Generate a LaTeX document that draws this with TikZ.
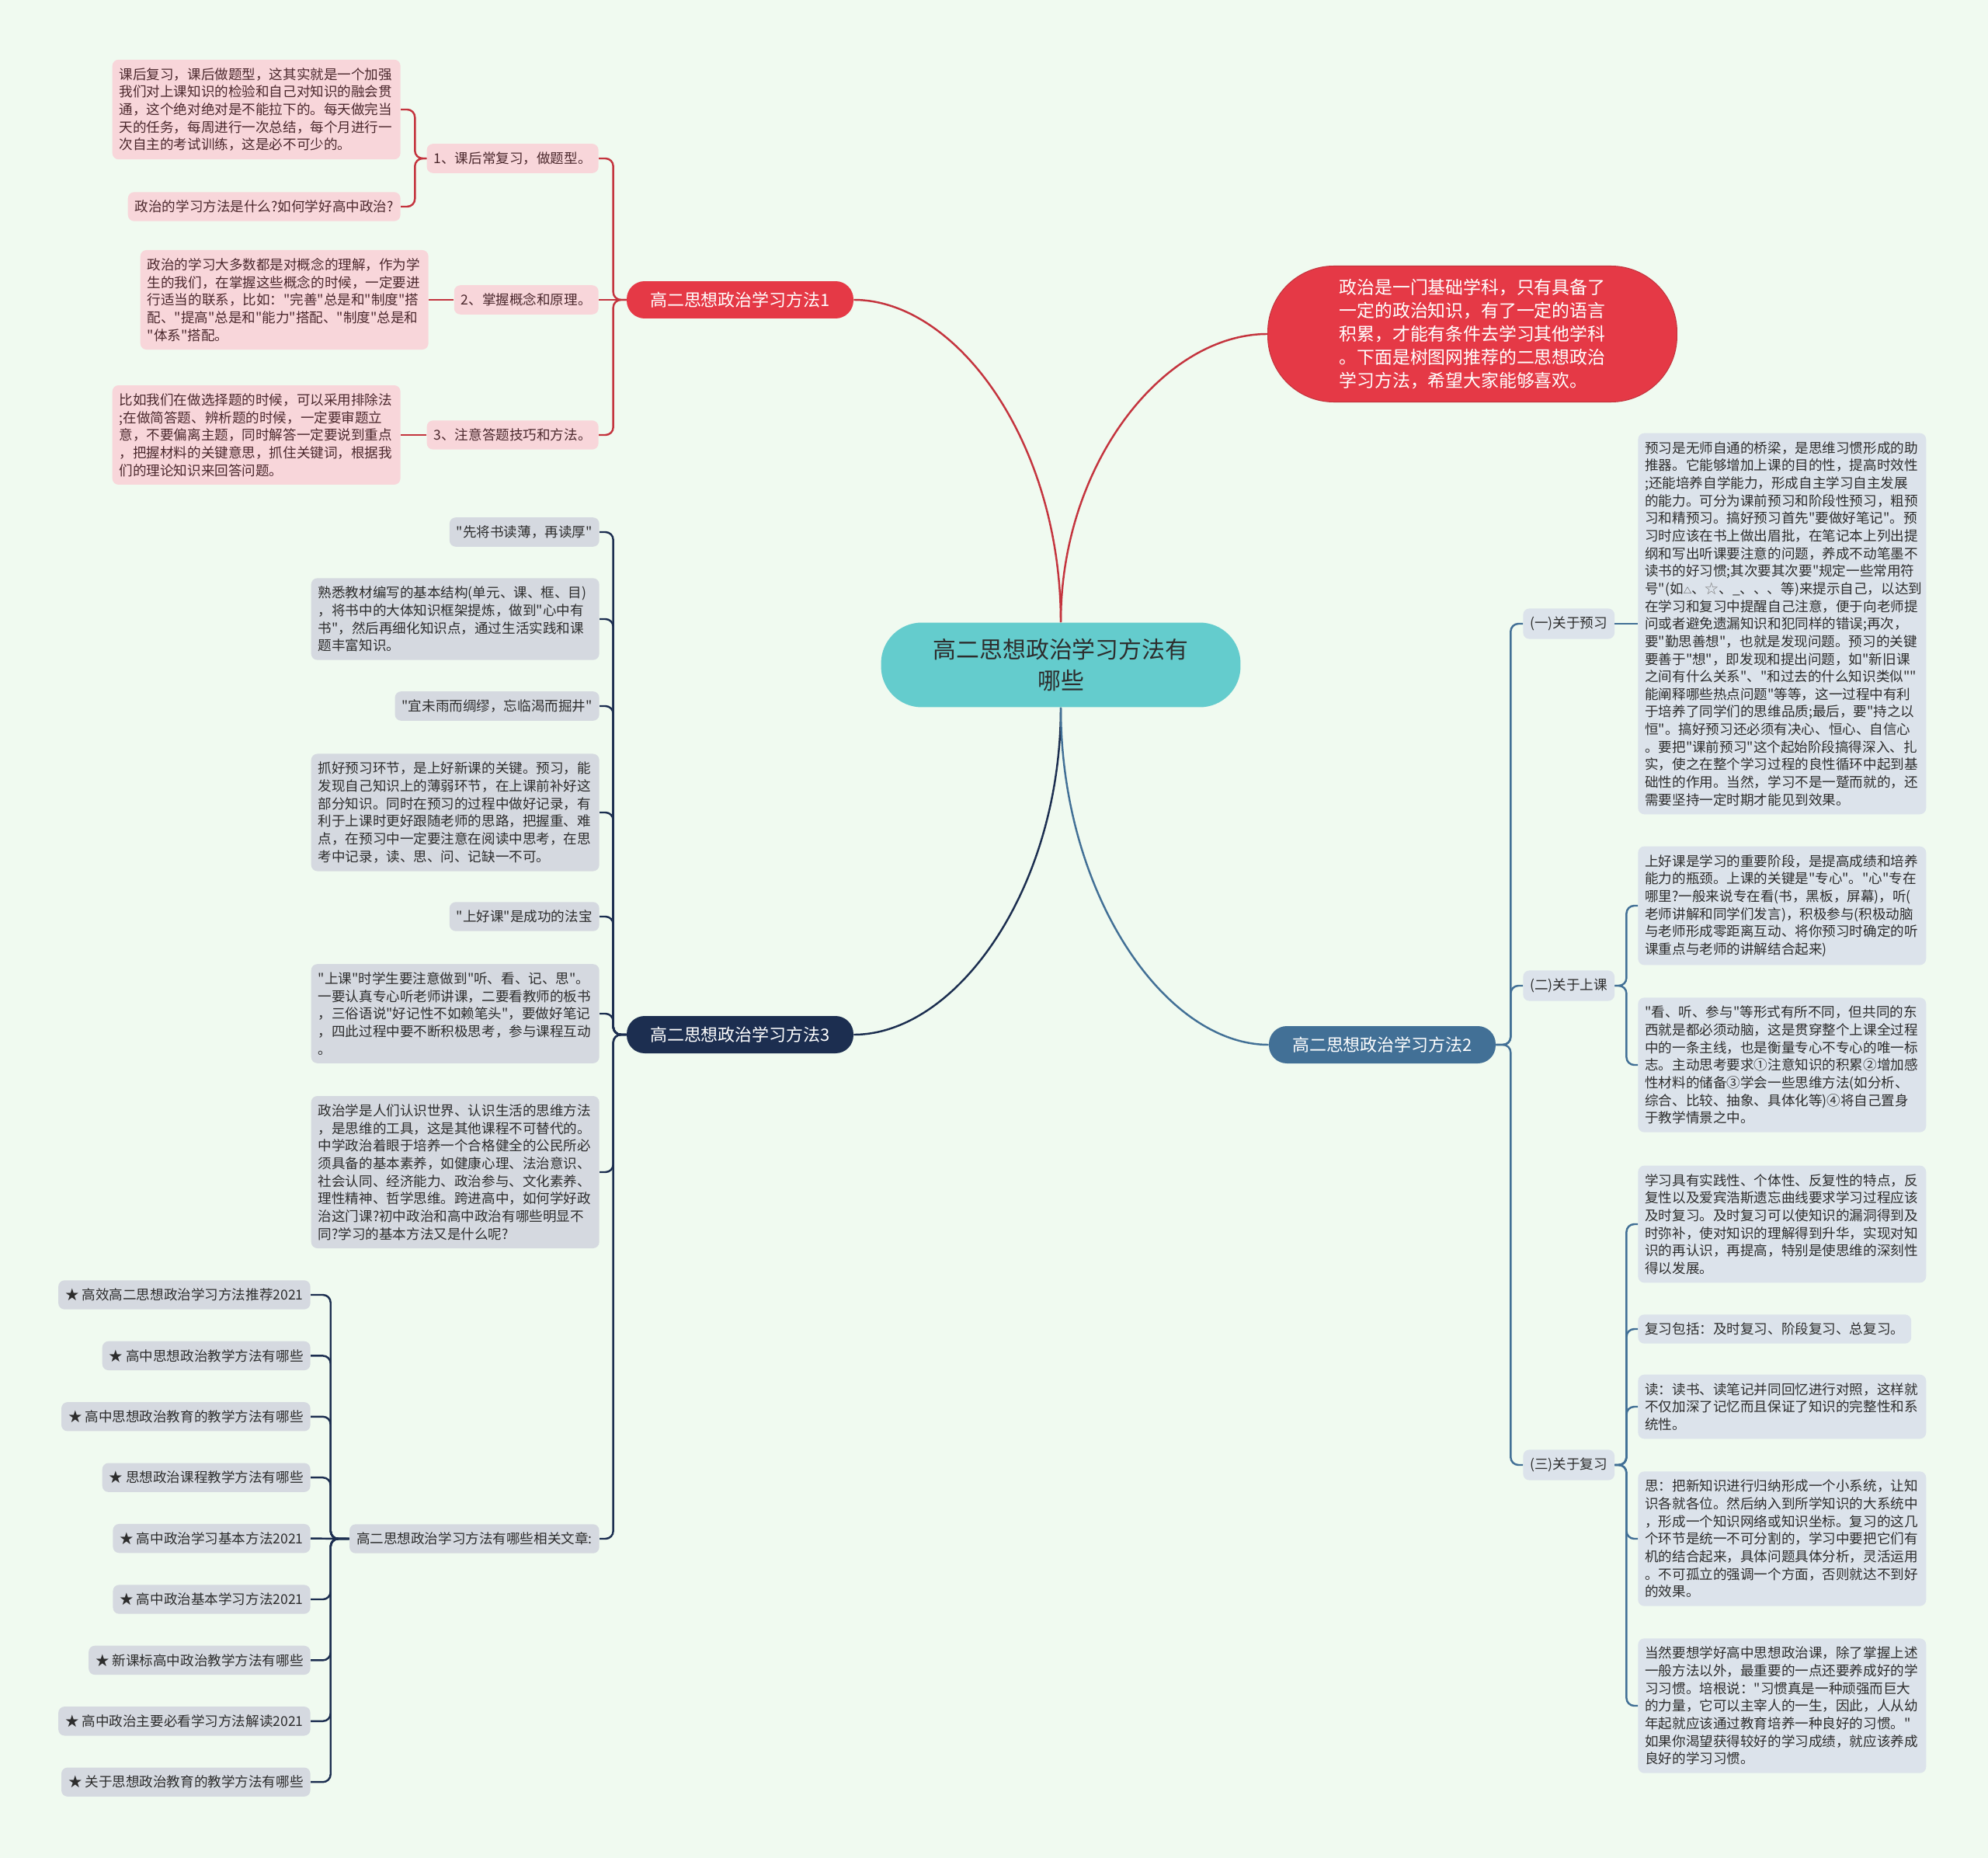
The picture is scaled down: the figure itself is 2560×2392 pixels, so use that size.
\documentclass[tikz,border=0pt]{standalone}
\usepackage{fontspec}
\newfontfamily\cjk{Noto Sans CJK SC}

\definecolor{bgmint}{RGB}{240,250,240}
\definecolor{pinkfill}{RGB}{248,214,218}
\definecolor{pinktext}{RGB}{75,40,45}
\definecolor{redline}{RGB}{196,52,62}
\definecolor{redfill}{RGB}{229,57,70}
\definecolor{navy}{RGB}{28,46,80}
\definecolor{grayfill}{RGB}{213,217,224}
\definecolor{steel}{RGB}{66,112,150}
\definecolor{bluefill}{RGB}{220,227,235}
\definecolor{cyanfill}{RGB}{100,204,205}
\definecolor{inkdark}{RGB}{45,45,45}

\def\notewidth{7.06cm}

\tikzset{
  note/.style={rounded corners=0.16cm, align=left, inner xsep=0.18cm, inner ysep=0.21cm,
    font=\cjk\fontsize{10}{12.9}\selectfont, text=inkdark},
  pinknote/.style={note, fill=pinkfill, text=pinktext},
  graynote/.style={note, fill=grayfill},
  bluenote/.style={note, fill=bluefill},
  wide/.style={text width=\notewidth},
  topic/.style={rounded corners=0.46cm, minimum width=5.84cm, minimum height=0.96cm,
    inner sep=0pt, text=white, font=\cjk\fontsize{12.5}{15}\selectfont},
  link/.style={line width=1.4pt, rounded corners=0.2cm},
}

\begin{document}
\begin{tikzpicture}[x=0.02cm, y=-0.02cm]
% Background
\fill[bgmint] (0,0) rectangle (2560,2392);

% Root and intro
\node[fill=cyanfill, rounded corners=1.05cm, minimum width=9.26cm, minimum height=2.18cm,
  align=center, text=inkdark, font=\cjk\fontsize{17}{23}\selectfont] (root) at (1366,856)
  {高二思想政治学习方法有\\哪些};
\node[fill=redfill, draw=redline, line width=0.6pt, rounded corners=1.7cm,
  minimum width=10.54cm, minimum height=3.5cm, align=left, text=white,
  font=\cjk\fontsize{13}{17}\selectfont] (intro) at (1896,430)
  {政治是一门基础学科，只有具备了\\
一定的政治知识，有了一定的语言\\
积累，才能有条件去学习其他学科\\
。下面是树图网推荐的二思想政治\\
学习方法，希望大家能够喜欢。};

% Branch 1
\node[topic, fill=redfill] (mA) at (953,386) {高二思想政治学习方法1};
\node[pinknote, anchor=east] (la) at (771,204) {1、课后常复习，做题型。};
\node[pinknote, anchor=east] (lb) at (771,386) {2、掌握概念和原理。};
\node[pinknote, anchor=east] (lc) at (771,560) {3、注意答题技巧和方法。};
\node[pinknote, wide, anchor=east] (la1) at (516,141) {课后复习，课后做题型，这其实就是一个加强\\
我们对上课知识的检验和自己对知识的融会贯\\
通，这个绝对绝对是不能拉下的。每天做完当\\
天的任务，每周进行一次总结，每个月进行一\\
次自主的考试训练，这是必不可少的。};
\node[pinknote, anchor=east] (la2) at (516,266) {政治的学习方法是什么?如何学好高中政治?};
\node[pinknote, wide, anchor=east] (lb1) at (552,386) {政治的学习大多数都是对概念的理解，作为学\\
生的我们，在掌握这些概念的时候，一定要进\\
行适当的联系，比如："完善"总是和"制度"搭\\
配、"提高"总是和"能力"搭配、"制度"总是和\\
"体系"搭配。};
\node[pinknote, wide, anchor=east] (lc1) at (516,560) {比如我们在做选择题的时候，可以采用排除法\\
;在做简答题、辨析题的时候，一定要审题立\\
意，不要偏离主题，同时解答一定要说到重点\\
，把握材料的关键意思，抓住关键词，根据我\\
们的理论知识来回答问题。};

\foreach \n in {la,lc}
  \draw[link, redline] (mA.west) -- ++(-17,0) |- (\n.east);
\draw[link, redline] (mA.west) -- (lb.east);
\foreach \n in {la1,la2}
  \draw[link, redline] (la.west) -- ++(-15,0) |- (\n.east);
\draw[link, redline] (lb.west) -- (lb1.east);
\draw[link, redline] (lc.west) -- (lc1.east);

% Branch 3
\node[topic, fill=navy] (mC) at (953,1332) {高二思想政治学习方法3};
\node[graynote, anchor=east] (c1) at (772,685) {"先将书读薄，再读厚"};
\node[graynote, wide, anchor=east] (c2) at (772,797) {熟悉教材编写的基本结构(单元、课、框、目)\\
，将书中的大体知识框架提炼，做到"心中有\\
书"，然后再细化知识点，通过生活实践和课\\
题丰富知识。};
\node[graynote, anchor=east] (c3) at (772,909) {"宜未雨而绸缪，忘临渴而掘井"};
\node[graynote, wide, anchor=east] (c4) at (772,1046) {抓好预习环节，是上好新课的关键。预习，能\\
发现自己知识上的薄弱环节，在上课前补好这\\
部分知识。同时在预习的过程中做好记录，有\\
利于上课时更好跟随老师的思路，把握重、难\\
点，在预习中一定要注意在阅读中思考，在思\\
考中记录，读、思、问、记缺一不可。};
\node[graynote, anchor=east] (c5) at (772,1180) {"上好课"是成功的法宝};
\node[graynote, wide, anchor=east] (c6) at (772,1305) {"上课"时学生要注意做到"听、看、记、思"。\\
一要认真专心听老师讲课，二要看教师的板书\\
，三俗语说"好记性不如赖笔头"，要做好笔记\\
，四此过程中要不断积极思考，参与课程互动\\
。};
\node[graynote, wide, anchor=east] (c7) at (772,1509) {政治学是人们认识世界、认识生活的思维方法\\
，是思维的工具，这是其他课程不可替代的。\\
中学政治着眼于培养一个合格健全的公民所必\\
须具备的基本素养，如健康心理、法治意识、\\
社会认同、经济能力、政治参与、文化素养、\\
理性精神、哲学思维。跨进高中，如何学好政\\
治这门课?初中政治和高中政治有哪些明显不\\
同?学习的基本方法又是什么呢?};
\node[graynote, anchor=east] (c8) at (772,1981) {高二思想政治学习方法有哪些相关文章:};

\foreach \n in {c1,c2,c3,c4,c5,c6,c7,c8}
  \draw[link, navy] (mC.west) -- ++(-17,0) |- (\n.east);

% Related articles
\foreach \t [count=\i] in {高效高二思想政治学习方法推荐2021, 高中思想政治教学方法有哪些,
    高中思想政治教育的教学方法有哪些, 思想政治课程教学方法有哪些, 高中政治学习基本方法2021,
    高中政治基本学习方法2021, 新课标高中政治教学方法有哪些, 高中政治主要必看学习方法解读2021,
    关于思想政治教育的教学方法有哪些} {
  \node[graynote, anchor=east] (s\i) at (400,{1588.6+78.4*\i}) {★ \t};
}
\foreach \i in {1,...,9} {
  \ifnum\i=5
    \draw[link, navy] (c8.west) -- (s\i.east);
  \else
    \draw[link, navy] (c8.west) -- ++(-24,0) |- (s\i.east);
  \fi
}

% Branch 2
\node[topic, fill=steel] (mB) at (1780,1345) {高二思想政治学习方法2};
\node[bluenote, anchor=west] (q1) at (1961,803) {(一)关于预习};
\node[bluenote, anchor=west] (q2) at (1961,1269) {(二)关于上课};
\node[bluenote, anchor=west] (q3) at (1961,1886) {(三)关于复习};
\node[bluenote, wide, anchor=west] (p1) at (2109,803) {预习是无师自通的桥梁，是思维习惯形成的助\\
推器。它能够增加上课的目的性，提高时效性\\
;还能培养自学能力，形成自主学习自主发展\\
的能力。可分为课前预习和阶段性预习，粗预\\
习和精预习。搞好预习首先"要做好笔记"。预\\
习时应该在书上做出眉批，在笔记本上列出提\\
纲和写出听课要注意的问题，养成不动笔墨不\\
读书的好习惯;其次要其次要"规定一些常用符\\
号"(如{\fontsize{6}{6}\selectfont △}、{\color{gray}☆}、\_、、、等)来提示自己，以达到\\
在学习和复习中提醒自己注意，便于向老师提\\
问或者避免遗漏知识和犯同样的错误;再次，\\
要"勤思善想"，也就是发现问题。预习的关键\\
要善于"想"，即发现和提出问题，如"新旧课\\
之间有什么关系"、"和过去的什么知识类似""\\
能阐释哪些热点问题"等等，这一过程中有利\\
于培养了同学们的思维品质;最后，要"持之以\\
恒"。搞好预习还必须有决心、恒心、自信心\\
。要把"课前预习"这个起始阶段搞得深入、扎\\
实，使之在整个学习过程的良性循环中起到基\\
础性的作用。当然，学习不是一蹵而就的，还\\
需要坚持一定时期才能见到效果。};
\node[bluenote, wide, anchor=west] (k1) at (2109,1166) {上好课是学习的重要阶段，是提高成绩和培养\\
能力的瓶颈。上课的关键是"专心"。"心"专在\\
哪里?一般来说专在看(书，黑板，屏幕)，听(\\
老师讲解和同学们发言)，积极参与(积极动脑\\
与老师形成零距离互动、将你预习时确定的听\\
课重点与老师的讲解结合起来)};
\node[bluenote, wide, anchor=west] (k2) at (2109,1371) {"看、听、参与"等形式有所不同，但共同的东\\
西就是都必须动脑，这是贯穿整个上课全过程\\
中的一条主线，也是衡量专心不专心的唯一标\\
志。主动思考要求①注意知识的积累②增加感\\
性材料的储备③学会一些思维方法(如分析、\\
综合、比较、抽象、具体化等)④将自己置身\\
于教学情景之中。};
\node[bluenote, wide, anchor=west] (r1) at (2109,1576) {学习具有实践性、个体性、反复性的特点，反\\
复性以及爱宾浩斯遗忘曲线要求学习过程应该\\
及时复习。及时复习可以使知识的漏洞得到及\\
时弥补，使对知识的理解得到升华，实现对知\\
识的再认识，再提高，特别是使思维的深刻性\\
得以发展。};
\node[bluenote, anchor=west] (r2) at (2109,1711) {复习包括：及时复习、阶段复习、总复习。};
\node[bluenote, wide, anchor=west] (r3) at (2109,1811) {读：读书、读笔记并同回忆进行对照，这样就\\
不仅加深了记忆而且保证了知识的完整性和系\\
统性。};
\node[bluenote, wide, anchor=west] (r4) at (2109,1981) {思：把新知识进行归纳形成一个小系统，让知\\
识各就各位。然后纳入到所学知识的大系统中\\
，形成一个知识网络或知识坐标。复习的这几\\
个环节是统一不可分割的，学习中要把它们有\\
机的结合起来，具体问题具体分析，灵活运用\\
。不可孤立的强调一个方面，否则就达不到好\\
的效果。};
\node[bluenote, wide, anchor=west] (r5) at (2109,2196) {当然要想学好高中思想政治课，除了掌握上述\\
一般方法以外，最重要的一点还要养成好的学\\
习习惯。培根说："习惯真是一种顽强而巨大\\
的力量，它可以主宰人的一生，因此，人从幼\\
年起就应该通过教育培养一种良好的习惯。"\\
如果你渴望获得较好的学习成绩，就应该养成\\
良好的学习习惯。};

\foreach \n in {q1,q2,q3}
  \draw[link, steel] (mB.east) -- ++(19,0) |- (\n.west);
\draw[link, steel] (q1.east) -- (p1.west);
\foreach \n in {k1,k2}
  \draw[link, steel] (q2.east) -- ++(15,0) |- (\n.west);
\foreach \n in {r1,r2,r3,r4,r5}
  \draw[link, steel] (q3.east) -- ++(15,0) |- (\n.west);

% Main curves from the root
\draw[link, redline] (mA.east) .. controls +(133,0) and +(0,-231) .. (root.north);
\draw[link, redline] (intro.west) .. controls +(-133,0) and +(0,-205) .. (root.north);
\draw[link, navy] (mC.east) .. controls +(133,0) and +(0,232) .. (root.south);
\draw[link, steel] (mB.west) .. controls +(-134,0) and +(0,239) .. (root.south);
\end{tikzpicture}
\end{document}
